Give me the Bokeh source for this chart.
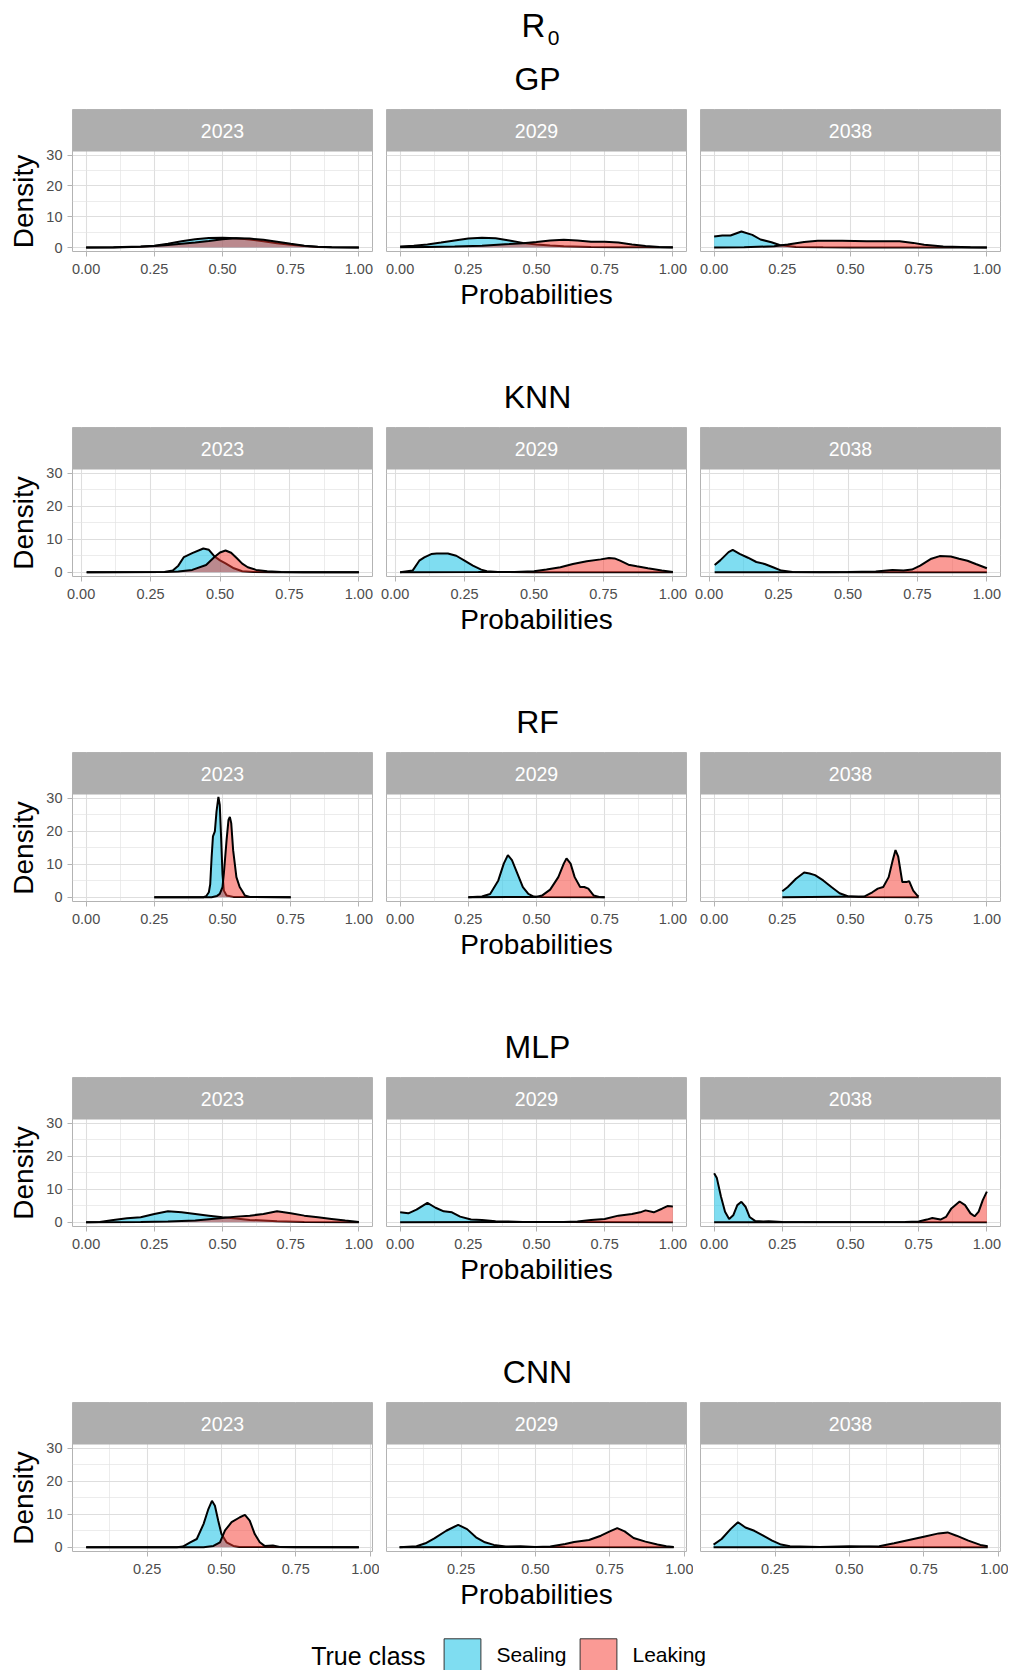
import math
import numpy as np
from bokeh.plotting import figure
from bokeh.models import (FixedTicker, NumeralTickFormatter, Label, Range1d, Legend, LegendItem,
                          BoxAnnotation)
from bokeh.layouts import column, row
from bokeh.embed import file_html
from bokeh.resources import INLINE

FONT = "Liberation Sans"

MODELS = ["GP", "KNN", "RF", "MLP", "CNN"]
YEARS = ["2023", "2029", "2038"]
CLASSES = ["Sealing", "Leaking"]
MAIN_TITLE = "R"
MAIN_TITLE_SUB = "0"
X_LABEL = "Probabilities"
Y_LABEL = "Density"
LEGEND_TITLE = "True class"
X_TICKS = [0.0, 0.25, 0.5, 0.75, 1.0]
CNN_X_TICKS = [0.25, 0.5, 0.75, 1.0]
X_MINOR = [0.125, 0.375, 0.625, 0.875]
Y_TICKS = [0, 10, 20, 30]
Y_MINOR = [5, 15, 25]

# ---------------- density curves ----------------
GP_2023_SEALING_X = [0.00, 0.10, 0.20, 0.25, 0.30, 0.35, 0.40, 0.45, 0.50, 0.55, 0.60, 0.65, 0.70, 0.75, 0.80, 0.85, 0.90, 1.00]
GP_2023_SEALING_Y = [0.0, 0.05, 0.3, 0.6, 1.2, 2.0, 2.7, 3.1, 3.2, 3.0, 2.6, 2.0, 1.4, 0.9, 0.45, 0.2, 0.05, 0.0]
GP_2023_LEAKING_X = [0.00, 0.10, 0.20, 0.25, 0.30, 0.35, 0.40, 0.45, 0.50, 0.55, 0.60, 0.65, 0.70, 0.75, 0.80, 0.85, 0.90, 1.00]
GP_2023_LEAKING_Y = [0.0, 0.03, 0.25, 0.5, 0.8, 1.2, 1.6, 2.1, 2.7, 3.0, 2.9, 2.5, 1.9, 1.2, 0.6, 0.25, 0.08, 0.0]

GP_2029_SEALING_X = [0.00, 0.05, 0.10, 0.15, 0.20, 0.25, 0.30, 0.35, 0.40, 0.45, 0.50, 0.55, 0.60, 0.70, 0.80, 0.90, 1.00]
GP_2029_SEALING_Y = [0.3, 0.6, 1.0, 1.6, 2.3, 2.9, 3.2, 3.0, 2.3, 1.5, 1.0, 0.65, 0.4, 0.2, 0.1, 0.05, 0.0]
GP_2029_LEAKING_X = [0.00, 0.10, 0.20, 0.30, 0.40, 0.45, 0.50, 0.55, 0.60, 0.65, 0.70, 0.75, 0.80, 0.85, 0.90, 0.95, 1.00]
GP_2029_LEAKING_Y = [0.1, 0.2, 0.3, 0.6, 1.1, 1.4, 1.8, 2.3, 2.5, 2.3, 1.9, 1.9, 1.6, 1.0, 0.5, 0.2, 0.1]

GP_2038_SEALING_X = [0.00, 0.03, 0.06, 0.10, 0.14, 0.17, 0.21, 0.24, 0.30, 0.40, 0.50, 0.70, 1.00]
GP_2038_SEALING_Y = [3.6, 3.9, 3.9, 5.2, 4.1, 2.6, 1.7, 0.8, 0.2, 0.05, 0.02, 0.0, 0.0]
GP_2038_LEAKING_X = [0.00, 0.11, 0.22, 0.27, 0.33, 0.38, 0.47, 0.56, 0.63, 0.68, 0.73, 0.77, 0.84, 0.94, 1.00]
GP_2038_LEAKING_Y = [0.0, 0.1, 0.4, 1.0, 1.8, 2.2, 2.2, 2.0, 2.0, 2.0, 1.5, 0.9, 0.3, 0.05, 0.0]

KNN_2023_SEALING_X = [0.02, 0.30, 0.33, 0.35, 0.37, 0.40, 0.44, 0.46, 0.48, 0.50, 0.52, 0.55, 0.58, 0.62, 0.70, 1.00]
KNN_2023_SEALING_Y = [0.0, 0.05, 0.5, 2.0, 4.6, 5.8, 7.2, 6.8, 4.8, 3.6, 2.7, 1.2, 0.3, 0.05, 0.0, 0.0]
KNN_2023_LEAKING_X = [0.02, 0.30, 0.35, 0.40, 0.45, 0.48, 0.50, 0.52, 0.54, 0.56, 0.58, 0.60, 0.63, 0.67, 0.72, 0.80, 1.00]
KNN_2023_LEAKING_Y = [0.0, 0.05, 0.2, 0.7, 2.2, 4.6, 6.0, 6.6, 5.9, 4.3, 2.6, 1.5, 0.7, 0.3, 0.1, 0.0, 0.0]

KNN_2029_SEALING_X = [0.018, 0.063, 0.087, 0.105, 0.13, 0.15, 0.19, 0.22, 0.25, 0.28, 0.31, 0.33, 0.37, 0.50, 1.00]
KNN_2029_SEALING_Y = [0.0, 0.5, 3.5, 4.5, 5.5, 5.7, 5.7, 5.0, 3.5, 2.0, 0.8, 0.3, 0.05, 0.0, 0.0]
KNN_2029_LEAKING_X = [0.018, 0.30, 0.43, 0.50, 0.545, 0.595, 0.64, 0.69, 0.74, 0.77, 0.79, 0.81, 0.84, 0.87, 0.91, 0.96, 1.00]
KNN_2029_LEAKING_Y = [0.0, 0.05, 0.1, 0.3, 0.8, 1.5, 2.5, 3.3, 3.9, 4.3, 4.2, 3.5, 2.3, 1.8, 1.2, 0.5, 0.1]

KNN_2038_SEALING_X = [0.02, 0.04, 0.07, 0.085, 0.11, 0.14, 0.17, 0.20, 0.23, 0.26, 0.30, 0.40, 1.00]
KNN_2038_SEALING_Y = [2.2, 3.6, 6.1, 6.8, 5.6, 4.4, 3.1, 2.5, 1.5, 0.5, 0.1, 0.02, 0.0]
KNN_2038_LEAKING_X = [0.02, 0.50, 0.60, 0.66, 0.70, 0.73, 0.76, 0.80, 0.83, 0.87, 0.90, 0.93, 0.96, 1.00]
KNN_2038_LEAKING_Y = [0.0, 0.05, 0.2, 0.7, 0.5, 0.8, 2.0, 4.1, 4.9, 4.8, 4.1, 3.5, 2.5, 1.2]

RF_2023_SEALING_X = [0.25, 0.43, 0.44, 0.45, 0.455, 0.46, 0.465, 0.472, 0.478, 0.485, 0.49, 0.495, 0.50, 0.505, 0.515, 0.54, 0.75]
RF_2023_SEALING_Y = [0.0, 0.0, 0.3, 1.5, 4.0, 12.0, 18.5, 20.0, 26.0, 30.5, 28.0, 18.0, 7.0, 2.0, 0.5, 0.1, 0.0]
RF_2023_LEAKING_X = [0.25, 0.46, 0.48, 0.49, 0.50, 0.505, 0.515, 0.522, 0.527, 0.532, 0.539, 0.551, 0.563, 0.573, 0.582, 0.60, 0.75]
RF_2023_LEAKING_Y = [0.0, 0.0, 0.4, 1.0, 3.1, 7.2, 17.4, 23.5, 24.4, 22.5, 14.3, 6.1, 3.1, 1.8, 0.5, 0.05, 0.0]

RF_2029_SEALING_X = [0.25, 0.30, 0.33, 0.36, 0.38, 0.395, 0.41, 0.43, 0.45, 0.47, 0.49, 0.52, 0.75]
RF_2029_SEALING_Y = [0.0, 0.2, 1.0, 5.1, 10.2, 12.8, 11.3, 7.2, 3.1, 1.0, 0.2, 0.05, 0.0]
RF_2029_LEAKING_X = [0.25, 0.50, 0.52, 0.55, 0.58, 0.60, 0.61, 0.625, 0.64, 0.66, 0.675, 0.69, 0.71, 0.73, 0.75]
RF_2029_LEAKING_Y = [0.0, 0.1, 0.5, 2.3, 6.1, 10.2, 11.8, 10.2, 6.1, 3.1, 3.1, 2.6, 0.5, 0.1, 0.0]

RF_2038_SEALING_X = [0.25, 0.27, 0.30, 0.33, 0.35, 0.37, 0.40, 0.43, 0.46, 0.49, 0.53, 0.75]
RF_2038_SEALING_Y = [1.8, 3.1, 5.6, 7.5, 7.2, 6.7, 5.1, 3.1, 1.2, 0.3, 0.05, 0.0]
RF_2038_LEAKING_X = [0.25, 0.55, 0.58, 0.60, 0.62, 0.64, 0.655, 0.665, 0.675, 0.69, 0.705, 0.715, 0.73, 0.745, 0.75]
RF_2038_LEAKING_Y = [0.0, 0.2, 1.5, 2.6, 3.1, 6.1, 11.3, 14.3, 12.3, 4.6, 4.6, 4.9, 2.0, 0.5, 0.2]

MLP_2023_SEALING_X = [0.0, 0.05, 0.10, 0.15, 0.20, 0.25, 0.30, 0.35, 0.40, 0.45, 0.50, 0.55, 0.60, 0.70, 0.80, 1.00]
MLP_2023_SEALING_Y = [0.0, 0.1, 0.7, 1.2, 1.5, 2.5, 3.3, 3.0, 2.5, 2.0, 1.5, 1.1, 0.7, 0.3, 0.1, 0.0]
MLP_2023_LEAKING_X = [0.0, 0.20, 0.30, 0.40, 0.50, 0.55, 0.60, 0.65, 0.70, 0.75, 0.80, 0.85, 0.90, 0.95, 1.00]
MLP_2023_LEAKING_Y = [0.0, 0.05, 0.2, 0.5, 1.3, 1.7, 2.0, 2.5, 3.3, 2.7, 2.0, 1.5, 1.0, 0.5, 0.1]

MLP_2029_SEALING_X = [0.0, 0.03, 0.06, 0.10, 0.13, 0.16, 0.19, 0.22, 0.26, 0.30, 0.35, 0.45, 0.60, 1.00]
MLP_2029_SEALING_Y = [3.0, 2.7, 3.8, 5.9, 4.4, 3.3, 3.0, 1.7, 0.8, 0.7, 0.3, 0.1, 0.05, 0.0]
MLP_2029_LEAKING_X = [0.0, 0.50, 0.60, 0.65, 0.70, 0.75, 0.80, 0.85, 0.88, 0.90, 0.93, 0.96, 0.98, 1.00]
MLP_2029_LEAKING_Y = [0.0, 0.05, 0.1, 0.2, 0.7, 1.0, 2.0, 2.5, 3.0, 3.6, 3.0, 4.1, 4.9, 4.8]

MLP_2038_SEALING_X = [0.0, 0.01, 0.025, 0.04, 0.055, 0.07, 0.085, 0.10, 0.115, 0.13, 0.15, 0.18, 0.20, 0.25, 1.00]
MLP_2038_SEALING_Y = [14.9, 13.4, 7.8, 3.2, 1.0, 2.1, 5.2, 6.2, 4.7, 1.6, 0.4, 0.2, 0.3, 0.05, 0.0]
MLP_2038_LEAKING_X = [0.0, 0.70, 0.75, 0.78, 0.80, 0.83, 0.85, 0.87, 0.90, 0.92, 0.94, 0.955, 0.97, 0.985, 1.00]
MLP_2038_LEAKING_Y = [0.0, 0.1, 0.2, 0.8, 1.3, 0.8, 1.6, 4.2, 6.3, 5.2, 2.7, 1.8, 3.2, 6.7, 9.3]

CNN_2023_SEALING_X = [0.045, 0.35, 0.37, 0.395, 0.417, 0.44, 0.456, 0.468, 0.478, 0.489, 0.50, 0.517, 0.54, 0.56, 0.962]
CNN_2023_SEALING_Y = [0.0, 0.0, 0.2, 1.5, 2.5, 7.1, 11.6, 14.1, 12.6, 8.1, 4.0, 1.5, 0.4, 0.05, 0.0]
CNN_2023_LEAKING_X = [0.045, 0.44, 0.473, 0.495, 0.512, 0.534, 0.562, 0.579, 0.595, 0.612, 0.629, 0.645, 0.673, 0.696, 0.75, 0.962]
CNN_2023_LEAKING_Y = [0.0, 0.0, 0.4, 1.5, 5.1, 7.6, 9.1, 9.8, 8.1, 4.0, 1.5, 0.4, 0.5, 0.1, 0.0, 0.0]

CNN_2029_SEALING_X = [0.043, 0.10, 0.13, 0.16, 0.20, 0.24, 0.27, 0.30, 0.33, 0.36, 0.40, 0.45, 0.50, 0.60, 0.965]
CNN_2029_SEALING_Y = [0.0, 0.3, 1.2, 2.7, 5.0, 6.8, 5.5, 3.0, 1.5, 0.7, 0.2, 0.3, 0.1, 0.05, 0.0]
CNN_2029_LEAKING_X = [0.043, 0.50, 0.55, 0.60, 0.63, 0.68, 0.72, 0.75, 0.775, 0.80, 0.83, 0.87, 0.91, 0.94, 0.965]
CNN_2029_LEAKING_Y = [0.0, 0.05, 0.2, 1.0, 1.6, 2.2, 3.5, 4.8, 5.8, 4.8, 2.8, 1.7, 0.8, 0.3, 0.1]

CNN_2038_SEALING_X = [0.043, 0.07, 0.10, 0.125, 0.15, 0.18, 0.21, 0.24, 0.27, 0.30, 0.40, 0.50, 0.60, 0.965]
CNN_2038_SEALING_Y = [0.8, 2.5, 5.5, 7.6, 6.0, 5.0, 3.5, 2.0, 0.8, 0.3, 0.1, 0.3, 0.05, 0.0]
CNN_2038_LEAKING_X = [0.043, 0.50, 0.60, 0.65, 0.70, 0.75, 0.80, 0.83, 0.86, 0.90, 0.94, 0.965]
CNN_2038_LEAKING_Y = [0.0, 0.05, 0.3, 1.2, 2.2, 3.2, 4.2, 4.5, 3.5, 2.0, 0.7, 0.3]

CURVES = {}
for _m in MODELS:
    for _y in YEARS:
        for _c in CLASSES:
            key = f"{_m}_{_y}_{_c.upper()}"
            CURVES[(_m, _y, _c)] = (globals()[key + "_X"], globals()[key + "_Y"])

# ---------------- layout (page pixels; Bokeh's page has no body margin) ----------------
TOTAL_W = 1008
FRAME_W = 300
YLAB_W = 42                      # narrow column holding the "Density" titles
BORDER_L = [72 - YLAB_W, 7, 7]
BORDER_R = [7, 7, 8]
FRAME_LEFTS = [72, 386, 700]
STRIP_H = 42
AXIS_H = 28
STRIP_TOP = {"GP": 109, "KNN": 427, "RF": 752, "MLP": 1077, "CNN": 1402}
PANEL_H = {"GP": 100, "KNN": 107, "RF": 107, "MLP": 107, "CNN": 107}
PAGE_BOTTOM = 1670
X_RANGES = {
    "GP": (-0.05, 1.05),
    "KNN": (-0.031, 1.049),
    "RF": (-0.05, 1.05),
    "MLP": (-0.05, 1.05),
    "CNN": (-0.001, 1.008),
}
Y_LO, Y_HI = -1.3, 31.2

FILL = {"Sealing": "#00BCE3", "Leaking": "#F5362C"}
FILL_ALPHA = 0.5
STRIP_COLOR = "#AEAEAE"
BORDER_COLOR = "#B3B3B3"
GRID_MAJOR = "#DEDEDE"
GRID_MINOR = "#E4E4E4"
TICK_TEXT = "#4D4D4D"

COMMON = dict(output_backend="svg", toolbar_location=None, title=None)


def hide_grids(f):
    for g in list(f.xgrid) + list(f.ygrid):
        g.visible = False


def blank(f):
    f.outline_line_color = None
    f.background_fill_color = "white"
    f.border_fill_color = "white"
    hide_grids(f)
    return f


def text_fig(width, height):
    """A blank figure whose data coordinates are its own pixels (y downwards)."""
    f = figure(width=width, height=height, x_range=Range1d(0, width),
               y_range=Range1d(height, 0), min_border=0,
               x_axis_location=None, y_axis_location=None, **COMMON)
    return blank(f)


def ylab_fig(frame_h):
    """Narrow figure beside a facet row; its frame matches the facets' frames."""
    f = figure(frame_width=YLAB_W, frame_height=frame_h, x_range=Range1d(0, YLAB_W),
               y_range=Range1d(frame_h, 0), min_border_left=0, min_border_right=0,
               min_border_top=0, min_border_bottom=AXIS_H,
               x_axis_location=None, y_axis_location=None, **COMMON)
    return blank(f)


def text_label(f, x, y, text, size, **kw):
    """y is the vertical centre of the text."""
    f.add_layout(Label(x=x, y=y, text=text, text_font=FONT, text_font_size=size,
                       text_align=kw.pop("align", "center"), text_baseline="middle",
                       text_color=kw.pop("color", "black"), **kw))


def panel(model, col, year):
    """One facet: grey strip on top of the plotting area, inside one frame."""
    x0, x1 = X_RANGES[model]
    ph = PANEL_H[model]
    ppy = ph / (Y_HI - Y_LO)
    y_end = Y_HI + STRIP_H / ppy
    p = figure(frame_width=FRAME_W, frame_height=STRIP_H + ph,
               x_range=Range1d(x0, x1), y_range=Range1d(Y_LO, y_end),
               min_border_left=BORDER_L[col], min_border_right=BORDER_R[col],
               min_border_top=0, min_border_bottom=AXIS_H,
               y_axis_location="left" if col == 0 else None, **COMMON)
    p.background_fill_color = "white"
    p.border_fill_color = "white"
    p.outline_line_color = BORDER_COLOR
    p.outline_line_width = 1

    xt = FixedTicker(ticks=CNN_X_TICKS if model == "CNN" else X_TICKS, minor_ticks=X_MINOR)
    yt = FixedTicker(ticks=Y_TICKS, minor_ticks=Y_MINOR)
    ax = p.xaxis[0]
    ax.ticker = xt
    ax.formatter = NumeralTickFormatter(format="0.00")
    axes = [ax]
    if col == 0:
        ay = p.yaxis[0]
        ay.ticker = yt
        axes.append(ay)
    for a in axes:
        a.axis_line_color = None
        a.major_tick_line_color = BORDER_COLOR
        a.major_tick_line_width = 1
        a.major_tick_out = 5
        a.major_tick_in = 0
        a.minor_tick_line_color = None
        a.major_label_text_font = FONT
        a.major_label_text_font_size = "14.5px"
        a.major_label_text_color = TICK_TEXT
        a.major_label_standoff = 5
    ax.major_label_standoff = 7

    p.xgrid.ticker = xt
    p.ygrid.ticker = yt
    for g in list(p.xgrid) + list(p.ygrid):
        g.grid_line_color = GRID_MAJOR
        g.grid_line_width = 1.1
        g.minor_grid_line_color = GRID_MINOR
        g.minor_grid_line_width = 0.7

    for cls in CLASSES:
        xs, ys = CURVES[(model, year, cls)]
        p.varea(x=xs, y1=0, y2=ys, fill_color=FILL[cls], fill_alpha=FILL_ALPHA)
        p.line(x=xs, y=ys, line_color="black", line_width=2.0)

    # facet strip (covers the grid above the plotting area)
    p.add_layout(BoxAnnotation(bottom=Y_HI, fill_color=STRIP_COLOR, fill_alpha=1.0,
                               line_color=None))
    text_label(p, (x0 + x1) / 2, Y_HI + (STRIP_H / 2) / ppy, year, "19.5px", color="white")
    return p


MID_X = FRAME_LEFTS[1] + FRAME_W / 2
children = []
prev_bottom = 0
prev_panel_bottom = None
for m in MODELS:
    st = STRIP_TOP[m]
    b = text_fig(TOTAL_W, st - prev_bottom)
    if prev_panel_bottom is None:
        text_label(b, 533, 25, MAIN_TITLE, "33px")
        text_label(b, 553, 37, MAIN_TITLE_SUB, "21px")
    else:
        text_label(b, MID_X, prev_panel_bottom + 42.5 - prev_bottom, X_LABEL, "28px")
    text_label(b, 537, st - 31 - prev_bottom, m, "32px")
    children.append(b)

    frame_h = STRIP_H + PANEL_H[m]
    ylab = ylab_fig(frame_h)
    text_label(ylab, 22.5, STRIP_H + PANEL_H[m] / 2, Y_LABEL, "28px", angle=math.pi / 2)
    children.append(row(ylab, *[panel(m, i, yr) for i, yr in enumerate(YEARS)]))
    prev_panel_bottom = st + frame_h
    prev_bottom = prev_panel_bottom + AXIS_H

# ---------------- final band: x label + legend ----------------
lb_h = PAGE_BOTTOM - prev_bottom
lb = text_fig(TOTAL_W, lb_h)
text_label(lb, MID_X, prev_panel_bottom + 42.5 - prev_bottom, X_LABEL, "28px")
text_label(lb, 310.7, 1655 - prev_bottom, LEGEND_TITLE, "25px", align="left")

items = []
for cls in CLASSES:
    r = lb.quad(left=[np.nan], right=[np.nan], top=[np.nan], bottom=[np.nan],
                fill_color=FILL[cls], fill_alpha=FILL_ALPHA, line_color="#333333", line_width=1)
    items.append(LegendItem(label=cls, renderers=[r]))

GW, GH = 46, 43
leg_left = 444 - 0.1 * GW
leg_top = 1638 - 0.1 * GH
legend = Legend(items=items, orientation="horizontal",
                location=(leg_left, PAGE_BOTTOM - (leg_top + GH)),
                glyph_width=GW, glyph_height=GH, label_standoff=11, spacing=9,
                padding=0, margin=0, border_line_alpha=0, background_fill_alpha=0,
                label_text_font=FONT, label_text_font_size="21px", label_text_color="black",
                label_height=GH)
lb.add_layout(legend)
children.append(lb)

layout = column(*children)
open("out.html", "w").write(file_html(layout, INLINE))
